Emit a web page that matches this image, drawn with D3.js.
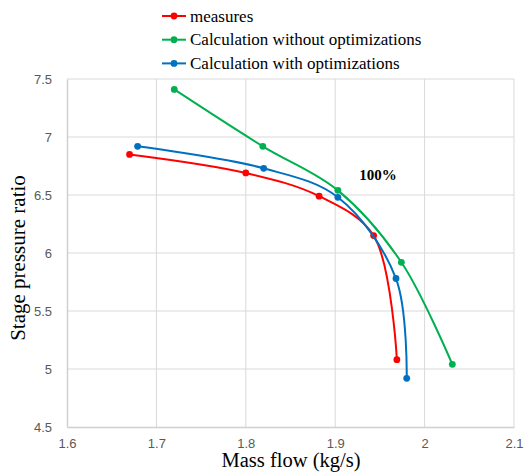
<!DOCTYPE html>
<html><head><meta charset="utf-8">
<script src="https://cdn.jsdelivr.net/npm/d3@7"></script>
<style>html,body{margin:0;padding:0;background:#fff;}</style>
</head><body>
<svg id="chart" width="527" height="472"></svg>
<script>
const seriesNames = ["measures", "Calculation without optimizations", "Calculation with optimizations"];
const seriesColors = ["#ff0000", "#00b050", "#0070c0"];
const measuresX = [1.67, 1.80, 1.882, 1.943, 1.969];
const measuresY = [6.85, 6.69, 6.49, 6.15, 5.08];
const noOptX = [1.72, 1.819, 1.903, 1.974, 2.031];
const noOptY = [7.41, 6.92, 6.54, 5.92, 5.04];
const optX = [1.679, 1.82, 1.903, 1.968, 1.980];
const optY = [6.92, 6.73, 6.48, 5.78, 4.92];
const xTicks = [1.6, 1.7, 1.8, 1.9, 2.0, 2.1];
const yTicks = [4.5, 5, 5.5, 6, 6.5, 7, 7.5];
const xTitle = "Mass flow (kg/s)";
const yTitle = "Stage pressure ratio";
const annotation = "100%";

const svg = d3.select("#chart");
const x = d3.scaleLinear().domain([1.6, 2.1]).range([67, 514]);
const y = d3.scaleLinear().domain([4.5, 7.5]).range([427, 79]);

// gridlines
svg.append("g").selectAll("line.v").data(xTicks.slice(1)).join("line")
  .attr("x1", d => x(d)).attr("x2", d => x(d)).attr("y1", y(7.5)).attr("y2", y(4.5))
  .attr("stroke", "#d9d9d9").attr("stroke-width", 1);
svg.append("g").selectAll("line.h").data(yTicks.slice(1)).join("line")
  .attr("x1", x(1.6)).attr("x2", x(2.1)).attr("y1", d => y(d)).attr("y2", d => y(d))
  .attr("stroke", "#d9d9d9").attr("stroke-width", 1);

// axes
const xAxis = svg.append("g").attr("transform", `translate(0,${y(4.5)})`)
  .call(d3.axisBottom(x).tickValues(xTicks).tickSize(0).tickPadding(12).tickFormat(d => String(+d.toFixed(1))));
const yAxis = svg.append("g").attr("transform", `translate(${x(1.6)},0)`)
  .call(d3.axisLeft(y).tickValues(yTicks).tickSize(0).tickPadding(15).tickFormat(d => String(d)));
[xAxis, yAxis].forEach(a => {
  a.select(".domain").attr("stroke", "#d0d0d0").attr("stroke-width", 1.5);
  a.selectAll("text").attr("fill", "#595959").style("font-family", "'Liberation Sans', Arial, sans-serif").style("font-size", "13px");
});

// series
const data = [
  measuresX.map((v, i) => [v, measuresY[i]]),
  noOptX.map((v, i) => [v, noOptY[i]]),
  optX.map((v, i) => [v, optY[i]])
];
const line = d3.line().x(d => x(d[0])).y(d => y(d[1])).curve(d3.curveCatmullRom.alpha(0.5));
data.forEach((pts, i) => {
  svg.append("path").datum(pts).attr("d", line).attr("fill", "none")
    .attr("stroke", seriesColors[i]).attr("stroke-width", 2);
  svg.append("g").selectAll("circle").data(pts).join("circle")
    .attr("cx", d => x(d[0])).attr("cy", d => y(d[1])).attr("r", 3.4)
    .attr("fill", seriesColors[i]);
});

// annotation
svg.append("text").attr("x", x(1.948)).attr("y", y(6.63)).attr("text-anchor", "middle")
  .style("font-family", "'Liberation Serif', 'Times New Roman', serif").style("font-size", "15px")
  .style("font-weight", "bold").text(annotation);

// legend
const legend = svg.append("g");
seriesNames.forEach((n, i) => {
  const ly = 16 + i * 23.7;
  legend.append("line").attr("x1", 162).attr("x2", 186).attr("y1", ly).attr("y2", ly)
    .attr("stroke", seriesColors[i]).attr("stroke-width", 2);
  legend.append("circle").attr("cx", 174).attr("cy", ly).attr("r", 3.4).attr("fill", seriesColors[i]);
  legend.append("text").attr("x", 190).attr("y", ly + 5.5)
    .style("font-family", "'Liberation Serif', 'Times New Roman', serif").style("font-size", "17px")
    .attr("fill", "#000").text(n);
});

// axis titles
svg.append("text").attr("x", 291).attr("y", 467).attr("text-anchor", "middle")
  .style("font-family", "'Liberation Serif', 'Times New Roman', serif").style("font-size", "20.5px").text(xTitle);
svg.append("text").attr("transform", "translate(25,258) rotate(-90)").attr("text-anchor", "middle")
  .style("font-family", "'Liberation Serif', 'Times New Roman', serif").style("font-size", "21px").text(yTitle);
</script>
</body></html>
